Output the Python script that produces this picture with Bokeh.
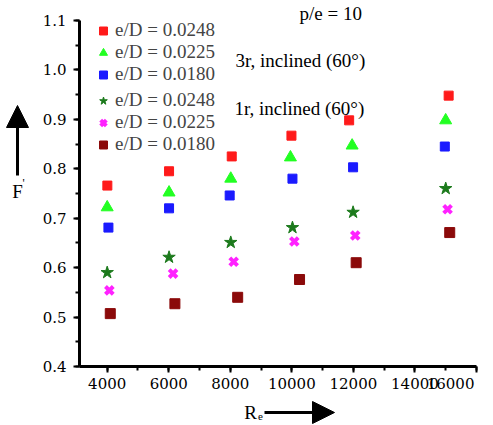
from bokeh.plotting import figure
from bokeh.layouts import row, column
from bokeh.models import (Range1d, SingleIntervalTicker, PrintfTickFormatter, Legend, LegendItem,
                          Label, Arrow, NormalHead, LinearAxis)
from bokeh.embed import file_html
from bokeh.resources import INLINE

# ---- data ----
re_red = [4005, 6010, 8047, 9987, 11862, 15095]
f_red = [0.766, 0.795, 0.825, 0.867, 0.898, 0.948]
re_green = [4000, 6010, 8015, 9954, 11959, 14998]
f_green = [0.722, 0.752, 0.780, 0.823, 0.847, 0.898]
re_blue = [4040, 6010, 7980, 10020, 11990, 14970]
f_blue = [0.681, 0.720, 0.746, 0.780, 0.803, 0.845]
re_dgreen = [4000, 6010, 8015, 10020, 11990, 15000]
f_dgreen = [0.590, 0.621, 0.651, 0.681, 0.712, 0.760]
re_mag = [4070, 6140, 8110, 10080, 12060, 15060]
f_mag = [0.554, 0.588, 0.612, 0.653, 0.665, 0.718]
re_dred = [4100, 6200, 8240, 10250, 12090, 15130]
f_dred = [0.507, 0.527, 0.540, 0.576, 0.610, 0.671]
labels = ["e/D = 0.0248", "e/D = 0.0225", "e/D = 0.0180"]

FONT = "Liberation Serif"
TICK_FONT = "DejaVu Serif"
W, H = 493, 425
LEFT_W = 39                 # strip left of the main figure (F' arrow)
FL, FR, FT, FB = 77, 476, 20, 366   # where x/y axes lie on the page
X0, X1 = 3100, 16000
Y0, Y1 = 0.4, 1.1
MAIN_W = W - LEFT_W
MAIN_H = 396
Y_TOP = Y1 + FT * (Y1 - Y0) / (FB - FT)

def blank(width, height):
    f = figure(width=width, height=height, x_range=Range1d(0, 1), y_range=Range1d(0, 1),
               x_axis_location=None, y_axis_location=None, output_backend="svg",
               toolbar_location=None, min_border=0, align="start")
    f.min_border_left = 0
    f.min_border_right = 0
    f.min_border_top = 0
    f.min_border_bottom = 0
    f.outline_line_color = None
    f.xgrid.visible = False
    f.ygrid.visible = False
    return f

# ---- main plot ----
p = figure(width=MAIN_W, height=MAIN_H,
           x_range=Range1d(X0, X1), y_range=Range1d(Y0, Y_TOP),
           x_axis_location=None, y_axis_location=None,
           output_backend="svg", toolbar_location=None, align="start",
           min_border_left=FL - LEFT_W, min_border_right=W - FR, min_border_top=0,
           min_border_bottom=MAIN_H - FB)
p.outline_line_color = None
p.xgrid.visible = False
p.ygrid.visible = False

axis_style = dict(axis_line_width=3, axis_line_color="black",
                  major_tick_line_width=2, minor_tick_line_width=2,
                  major_tick_line_color="black", minor_tick_line_color="black",
                  major_tick_in=0, major_tick_out=6, minor_tick_in=0, minor_tick_out=4,
                  major_label_text_font=TICK_FONT, major_label_text_font_size="15px",
                  major_label_text_color="black")

xa = LinearAxis(ticker=SingleIntervalTicker(interval=2000, num_minor_ticks=2),
                major_label_overrides={16000: "16000\u00a0\u00a0\u00a0\u00a0"},
                major_label_standoff=2, **axis_style)
ya = LinearAxis(ticker=SingleIntervalTicker(interval=0.1, num_minor_ticks=2),
                formatter=PrintfTickFormatter(format="%.1f"), bounds=(Y0, Y1),
                major_label_standoff=7, **axis_style)
p.add_layout(xa, "below")
p.add_layout(ya, "left")

r1 = p.scatter(re_red, f_red, marker="square", size=9, color="#ff1a1a")
r2 = p.scatter(re_green, f_green, marker="triangle", size=12, color="#22ff22")
r3 = p.scatter(re_blue, f_blue, marker="square", size=9, color="#1a1aff")
r4 = p.scatter(re_dgreen, f_dgreen, marker="star", size=13, color="#1c7a1c")
r5 = p.scatter(re_mag, f_mag, marker="x", size=11, line_width=4, color="#ff22ff")
r6 = p.scatter(re_dred, f_dred, marker="square", size=10, color="#8b0a0a")

def make_legend(rs, y_bottom):
    return Legend(items=[LegendItem(label=l, renderers=[r]) for l, r in zip(labels, rs)],
                  location=(14, y_bottom), orientation="vertical",
                  glyph_width=20, glyph_height=21, label_height=21, spacing=0,
                  label_standoff=2, padding=0, margin=0,
                  border_line_color=None, background_fill_alpha=0,
                  label_text_font=FONT, label_text_font_size="19px")

p.add_layout(make_legend([r1, r2, r3], FB - 85))
p.add_layout(make_legend([r4, r5, r6], FB - 155))

def note(fig, s, x, y, size="19px", align="left"):
    # screen units: pixels from the frame's bottom-left corner
    fig.add_layout(Label(x=x, y=y, x_units="screen", y_units="screen", text=s,
                         text_font=FONT, text_font_size=size, text_baseline="middle",
                         text_align=align, text_color="black"))

note(p, "p/e = 10", 297 - FL, FB - 13)
note(p, "3r, inclined (60°)", 233 - FL, FB - 60)
note(p, "1r, inclined (60°)", 232 - FL, FB - 108)

def arrow(fig, x0, y0, x1, y1):
    fig.add_layout(Arrow(end=NormalHead(size=22, fill_color="black", line_color="black"),
                         x_start=x0, y_start=y0, x_end=x1, y_end=y1,
                         start_units="screen", end_units="screen",
                         line_width=3, line_color="black"))

# ---- left strip: F' with upward arrow ----
left = blank(LEFT_W, MAIN_H)
note(left, "F", 17, MAIN_H - 221, align="center")
note(left, "'", 23, MAIN_H - 212, size="12px", align="center")
arrow(left, 17, MAIN_H - 205, 17, MAIN_H - 135)

# ---- bottom strip across the whole page: Re with rightward arrow ----
BH = H - MAIN_H
bottom = blank(W, BH)
note(bottom, "R", 250, H - 412, align="center")
note(bottom, "e", 260, H - 416, size="11px", align="center")
arrow(bottom, 264, H - 412, 334, H - 412)

layout = column(row(left, p, spacing=0, align="start"), bottom, spacing=0, align="start")
open("out.html", "w").write(file_html(layout, INLINE))
